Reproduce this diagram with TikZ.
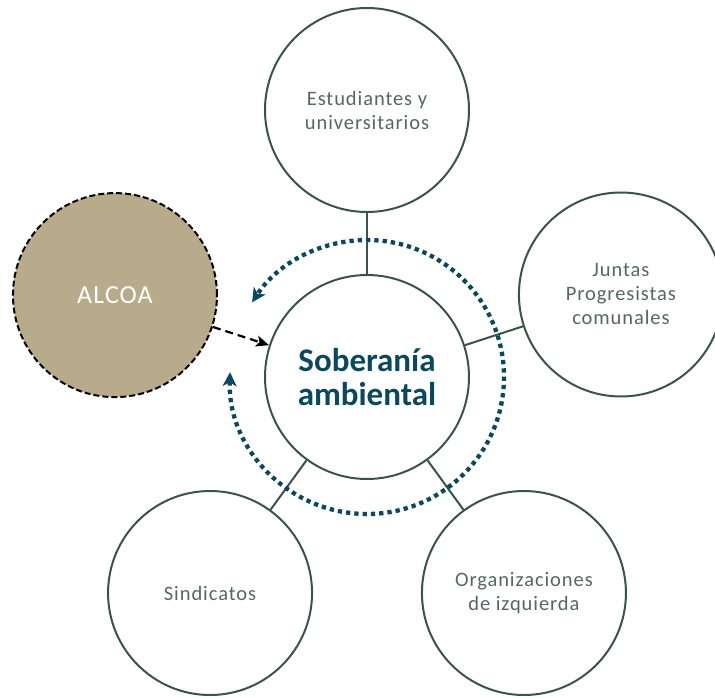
\documentclass[tikz,border=0pt]{standalone}
\usepackage{fontspec}
\setmainfont{Carlito}
\newfontfamily\labelfont{Carlito}[LetterSpace=4.5]
\newfontfamily\alcoafont{Carlito}[LetterSpace=4]
\usetikzlibrary{arrows.meta}
\definecolor{ringline}{RGB}{58,84,72}
\definecolor{labeltext}{RGB}{83,105,95}
\definecolor{sovteal}{RGB}{11,72,92}
\definecolor{alcoatan}{RGB}{184,171,139}
\begin{document}
\begin{tikzpicture}[x=1pt,y=1pt,
    actor/.style={circle,draw=ringline,line width=2pt,minimum size=204pt,
      inner sep=0pt,align=center,text=labeltext,
      font=\labelfont\fontsize{20.5}{24}\selectfont},
    core/.style={actor,text=sovteal,font=\fontsize{33}{34}\selectfont\bfseries},
    outsider/.style={actor,draw=black,dash pattern=on 6pt off 3pt,
      fill=alcoatan,text=white,font=\alcoafont\fontsize{26}{28}\selectfont},
    link/.style={draw=ringline,line width=2pt},
    pressure/.style={draw=black,line width=2.2pt,dash pattern=on 8pt off 5pt,
      -{Stealth[length=13pt,width=11pt,inset=3pt]}},
    cycle/.style={draw=sovteal,line width=4.3pt,dash pattern=on 4.3pt off 4pt,
      {Stealth[length=14pt,width=14pt,inset=4pt]}-{Stealth[length=14pt,width=14pt,inset=4pt]}}]
  \useasboundingbox (-367,-320) rectangle (348,377);
  \draw
    (0,0) node[core] (sov){Soberanía\\ambiental}
    (90:267) node[actor] (est){Estudiantes y\\universitarios}
    (18:267) node[actor] (jun){Juntas\\Progresistas\\comunales}
    (-54:267) node[actor] (izq){Organizaciones\\de izquierda}
    (-126:267) node[actor] (sin){Sindicatos}
    (162:265) node[outsider] (alcoa){ALCOA};
  \begin{scope}[link]
    \draw (sov) to (est);
    \draw (sov) to (jun);
    \draw (sov) to (izq);
    \draw (sov) to (sin);
  \end{scope}
  \draw[pressure] (alcoa) to (sov);
  \draw[cycle] ([shift={(178:137)}]sov.center)
    arc[start angle=178, end angle=507, radius=137];
\end{tikzpicture}
\end{document}
